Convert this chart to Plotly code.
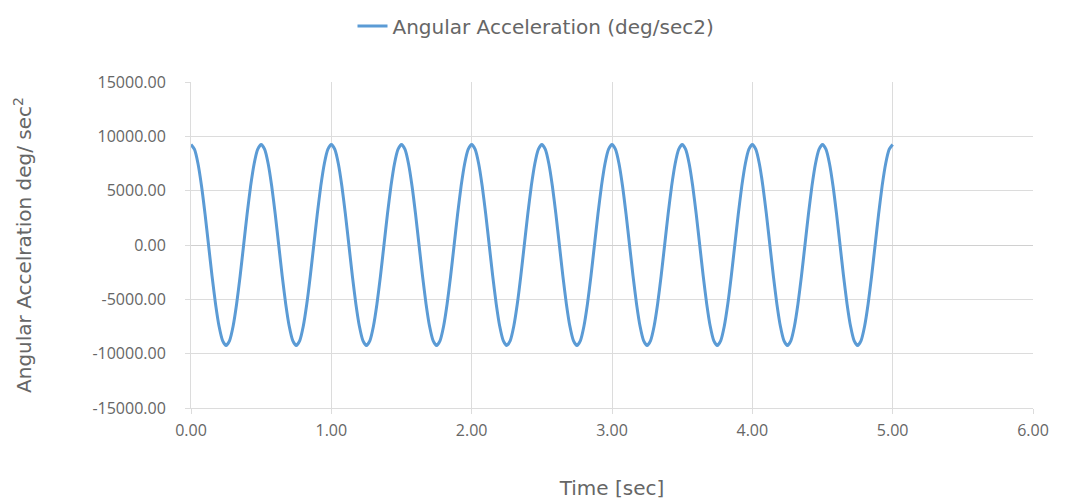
import plotly.graph_objects as go

# Sample times (sec), every 0.025 s from 0 to 5
time_sec = [round(i * 0.025, 3) for i in range(201)]

# Angular acceleration samples (deg/sec^2), one row per 0.5 s cycle
accel = [
    9250, 8797, 7483, 5437, 2858, 0, -2858, -5437, -7483, -8797,
    -9250, -8797, -7483, -5437, -2858, 0, 2858, 5437, 7483, 8797,
    9250, 8797, 7483, 5437, 2858, 0, -2858, -5437, -7483, -8797,
    -9250, -8797, -7483, -5437, -2858, 0, 2858, 5437, 7483, 8797,
    9250, 8797, 7483, 5437, 2858, 0, -2858, -5437, -7483, -8797,
    -9250, -8797, -7483, -5437, -2858, 0, 2858, 5437, 7483, 8797,
    9250, 8797, 7483, 5437, 2858, 0, -2858, -5437, -7483, -8797,
    -9250, -8797, -7483, -5437, -2858, 0, 2858, 5437, 7483, 8797,
    9250, 8797, 7483, 5437, 2858, 0, -2858, -5437, -7483, -8797,
    -9250, -8797, -7483, -5437, -2858, 0, 2858, 5437, 7483, 8797,
    9250, 8797, 7483, 5437, 2858, 0, -2858, -5437, -7483, -8797,
    -9250, -8797, -7483, -5437, -2858, 0, 2858, 5437, 7483, 8797,
    9250, 8797, 7483, 5437, 2858, 0, -2858, -5437, -7483, -8797,
    -9250, -8797, -7483, -5437, -2858, 0, 2858, 5437, 7483, 8797,
    9250, 8797, 7483, 5437, 2858, 0, -2858, -5437, -7483, -8797,
    -9250, -8797, -7483, -5437, -2858, 0, 2858, 5437, 7483, 8797,
    9250, 8797, 7483, 5437, 2858, 0, -2858, -5437, -7483, -8797,
    -9250, -8797, -7483, -5437, -2858, 0, 2858, 5437, 7483, 8797,
    9250, 8797, 7483, 5437, 2858, 0, -2858, -5437, -7483, -8797,
    -9250, -8797, -7483, -5437, -2858, 0, 2858, 5437, 7483, 8797,
    9250,
]

x_ticks = [0, 1, 2, 3, 4, 5, 6]
y_ticks = [-15000, -10000, -5000, 0, 5000, 10000, 15000]

tick_font = "Open Sans, Noto Sans, sans-serif"
title_font = "DejaVu Sans, sans-serif"
text_color = "#666666"
grid_color = "#dcdcdc"

fig = go.Figure()
fig.add_trace(go.Scatter(
    x=time_sec, y=accel, mode="lines",
    line=dict(color="#5b9bd5", width=3, shape="spline", smoothing=0.6),
    name="Angular Acceleration (deg/sec2)",
))

fig.update_layout(
    width=1072, height=503,
    margin=dict(l=191, r=39, t=82, b=95),
    paper_bgcolor="white", plot_bgcolor="white",
    font=dict(family=tick_font, size=16, color=text_color),
    showlegend=True,
    legend=dict(orientation="h", xref="container", x=0.5, xanchor="center",
                yref="container", y=0.987, yanchor="top",
                font=dict(family=title_font, size=20, color=text_color)),
    xaxis=dict(
        range=[0, 6], tickvals=x_ticks,
        ticktext=[f"{v:.2f}" for v in x_ticks],
        automargin=False,
        showgrid=True, gridcolor=grid_color, gridwidth=1,
        zeroline=False, showline=True, linecolor=grid_color,
        ticks="outside", ticklen=5, tickcolor=grid_color,
        ticklabelstandoff=3,
        tickfont=dict(family=tick_font, size=16, color=text_color),
        title=dict(text="Time [sec]",
                   font=dict(family=title_font, size=20, color=text_color),
                   standoff=40),
    ),
    yaxis=dict(
        range=[-15000, 15000], tickvals=y_ticks,
        ticktext=[f"{v:.2f}" for v in y_ticks],
        automargin=False,
        showgrid=True, gridcolor=grid_color, gridwidth=1,
        zeroline=True, zerolinecolor="#d0d0d0", zerolinewidth=1,
        showline=True, linecolor=grid_color,
        ticks="outside", ticklen=5, tickcolor=grid_color,
        ticklabelstandoff=16,
        tickfont=dict(family=tick_font, size=16, color=text_color),
        title=dict(text="Angular Accelration deg/ sec<sup>2</sup>",
                   font=dict(family=title_font, size=20, color=text_color),
                   standoff=55),
    ),
)

fig.write_html("out.html")
